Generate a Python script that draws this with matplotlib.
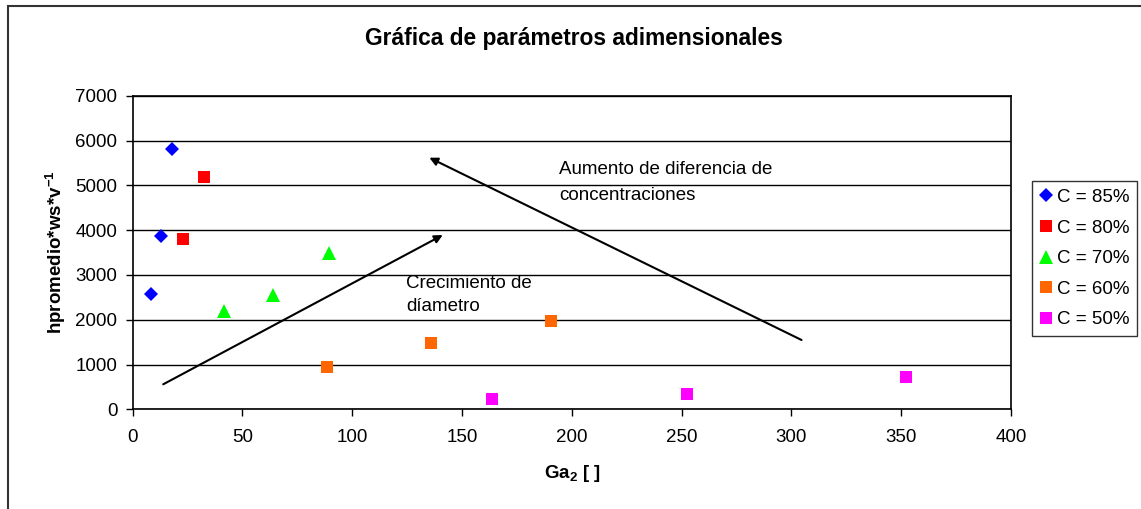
import matplotlib
matplotlib.use("Agg")
import matplotlib.pyplot as plt
from matplotlib.patches import Rectangle

plt.rcParams['font.family'] = ['Liberation Sans', 'DejaVu Sans']
plt.rcParams['mathtext.fontset'] = 'custom'
plt.rcParams['mathtext.rm'] = 'Liberation Sans'
plt.rcParams['mathtext.bf'] = 'Liberation Sans:bold'

# Data
ga_85 = [8.3, 13.0, 17.9]
h_85 = [2570, 3860, 5820]
ga_80 = [22.9, 32.3]
h_80 = [3810, 5180]
ga_70 = [41.4, 63.9, 89.5]
h_70 = [2200, 2550, 3500]
ga_60 = [88.5, 136.0, 190.3]
h_60 = [950, 1490, 1980]
ga_50 = [163.8, 252.3, 352.3]
h_50 = [220, 350, 715]

labels = ['C = 85%', 'C = 80%', 'C = 70%', 'C = 60%', 'C = 50%']
x_ticks = [0, 50, 100, 150, 200, 250, 300, 350, 400]
y_ticks = [0, 1000, 2000, 3000, 4000, 5000, 6000, 7000]

W, H = 1141, 509
fig = plt.figure(figsize=(W / 100, H / 100), dpi=100)
fig.patch.set_facecolor('white')

# outer chart frame
fig.patches.append(Rectangle((8 / W, -0.2), 1.2, 1.2 - 6 / H, transform=fig.transFigure,
                             fill=False, edgecolor='#333333', linewidth=1.5, zorder=0))

ax = fig.add_axes([132.7 / W, 1 - 409.3 / H, (1011 - 132.7) / W, (409.3 - 95.7) / H])
ax.set_xlim(0, 400)
ax.set_ylim(0, 7000)
ax.set_xticks(x_ticks)
ax.set_yticks(y_ticks)
ax.tick_params(axis='both', labelsize=13.5, direction='out', length=5, width=1, colors='black')
ax.tick_params(axis='x', pad=9)
ax.tick_params(axis='y', pad=6)
ax.yaxis.grid(True, color='black', linewidth=1)
ax.set_axisbelow(True)
for s in ax.spines.values():
    s.set_color('black')
    s.set_linewidth(1.2)

series = [
    (ga_85, h_85, 'D', '#0000FF', 7.0),
    (ga_80, h_80, 's', '#FF0000', 8.3),
    (ga_70, h_70, '^', '#00FF00', 10.0),
    (ga_60, h_60, 's', '#FF6600', 8.3),
    (ga_50, h_50, 's', '#FF00FF', 8.0),
]
for (xs, ys, m, c, ms), lab in zip(series, labels):
    ax.plot(xs, ys, linestyle='none', marker=m, color=c, markersize=ms,
            markeredgewidth=0, label=lab, zorder=3)

# arrows
ax.annotate('', xy=(141.2, 3890), xytext=(13.9, 558),
            arrowprops=dict(arrowstyle='-|>', color='black', lw=1.5,
                            mutation_scale=12, shrinkA=0, shrinkB=0))
ax.annotate('', xy=(135.1, 5616), xytext=(304.6, 1547),
            arrowprops=dict(arrowstyle='-|>', color='black', lw=1.5,
                            mutation_scale=12, shrinkA=0, shrinkB=0))

ax.text(194.3, 5540, 'Aumento de diferencia de\nconcentraciones', fontsize=13.5,
        ha='left', va='top', linespacing=1.65)
ax.text(124.5, 2990, 'Crecimiento de\ndíametro', fontsize=13.5,
        ha='left', va='top', linespacing=1.45)

fig.text(574 / W, 1 - 39 / H, 'Gráfica de parámetros adimensionales',
         fontsize=16.4, fontweight='bold', ha='center', va='center')
fig.text(572 / W, 1 - 474 / H, r'Ga$_\mathbf{2}$ [ ]', fontsize=13.5,
         fontweight='bold', ha='center', va='center')
fig.text(56 / W, 1 - 252 / H, r'hpromedio*ws*v$^\mathbf{-1}$', fontsize=13.5,
         fontweight='bold', ha='center', va='center', rotation=90)

leg = fig.legend(loc='upper left', bbox_to_anchor=(1032 / W, 1 - 181 / H),
                 bbox_transform=fig.transFigure, fontsize=13.5, frameon=True,
                 fancybox=False, edgecolor='black', handlelength=0.7,
                 handletextpad=0.2, labelspacing=0.72, borderpad=0.42,
                 borderaxespad=0, markerscale=1.0)
leg.get_frame().set_linewidth(1.0)

fig.savefig('out.png', dpi=100)
